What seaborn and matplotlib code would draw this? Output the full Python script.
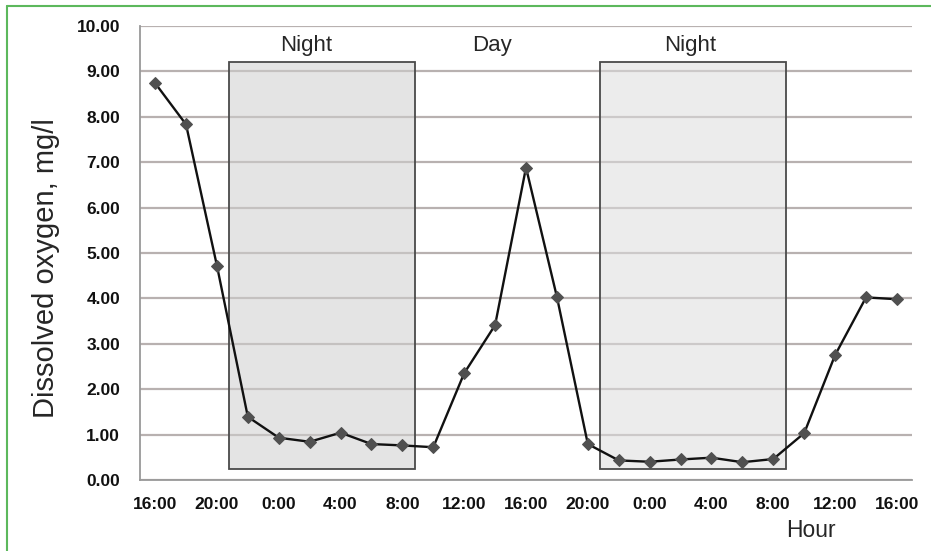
import numpy as np
import pandas as pd
import matplotlib
matplotlib.use('Agg')
import matplotlib.pyplot as plt
from matplotlib.patches import Rectangle
from matplotlib.lines import Line2D
import seaborn as sns

times = ['16:00', '18:00', '20:00', '22:00', '0:00', '2:00', '4:00', '6:00', '8:00',
         '10:00', '12:00', '14:00', '16:00', '18:00', '20:00', '22:00', '0:00', '2:00',
         '4:00', '6:00', '8:00', '10:00', '12:00', '14:00', '16:00']
oxygen = [8.74, 7.83, 4.72, 1.39, 0.93, 0.84, 1.04, 0.79, 0.76, 0.72, 2.35, 3.41, 6.88,
          4.03, 0.79, 0.43, 0.40, 0.45, 0.49, 0.39, 0.46, 1.03, 2.75, 4.02, 3.98]
# night periods, in sample-index units (start, end), and their vertical extent
night_spans = [(2.4, 8.4), (14.4, 20.4)]
night_low, night_high = 0.23, 9.2
period_labels = ['Night', 'Day', 'Night']

data = pd.DataFrame({'pos': np.arange(len(times)), 'do': oxygen})

sns.set_style('white')
plt.rcParams['font.family'] = ['Liberation Sans', 'DejaVu Sans']

fig = plt.figure(figsize=(9.31, 5.51), dpi=100)
ax = fig.add_axes([0.150, 0.129, 0.830, 0.824])

ax.set_axisbelow(True)
ax.yaxis.grid(True, color='#b8b1b0', linewidth=1.6)
ax.xaxis.grid(False)

fills = ['#cfcfcf', '#dedede']
for (x0, x1), fc in zip(night_spans, fills):
    ax.add_patch(Rectangle((x0, night_low), x1 - x0, night_high - night_low,
                           facecolor=fc, alpha=0.55, edgecolor='none', zorder=1))
    ax.add_patch(Rectangle((x0, night_low), x1 - x0, night_high - night_low,
                           facecolor='none', edgecolor='#4a4a4a', linewidth=1.3, zorder=2))

sns.lineplot(data=data, x='pos', y='do', ax=ax, color='#111111', linewidth=1.7,
             marker='D', markersize=6.5, markerfacecolor='#505050',
             markeredgecolor='#505050', zorder=3)

ax.set_xlim(-0.5, len(times) - 0.5)
ax.set_ylim(0, 10)

ax.set_yticks(np.arange(0, 11, 1))
ax.set_yticklabels([f'{v:.2f}' for v in np.arange(0, 11, 1)], fontweight='bold', fontsize=12.5)
ax.set_xticks(data['pos'][::2])
ax.set_xticklabels(times[::2], fontweight='bold', fontsize=12.5)
ax.set_xticks(np.arange(-0.5, len(times)), minor=True)
ax.tick_params(axis='x', which='major', length=0, pad=12, colors='#111111')
ax.tick_params(axis='x', which='minor', length=5, direction='inout', color='#999999', width=1.2)
ax.tick_params(axis='y', which='major', length=6, width=1.2, pad=8, colors='#111111')
ax.tick_params(axis='y', which='major', color='#999999')

for s in ['top', 'right']:
    ax.spines[s].set_visible(False)
for s in ['left', 'bottom']:
    ax.spines[s].set_color('#999999')
    ax.spines[s].set_linewidth(1.3)

ax.set_xlabel('')
ax.set_ylabel('Dissolved oxygen, mg/l', fontsize=21)
ax.yaxis.set_label_coords(-0.103, 0.466)

label_x = [4.9, 10.9, 17.3]
for lab, lx in zip(period_labels, label_x):
    ax.text(lx, 9.56, lab, ha='center', va='center', fontsize=16)

fig.text(0.871, 0.038, 'Hour', ha='center', va='center', fontsize=16.5)

# green frame around the figure
fig.add_artist(Line2D([0.0075, 1.0], [0.990, 0.990], transform=fig.transFigure,
                      color='#5cb85c', linewidth=1.5))
fig.add_artist(Line2D([0.0078, 0.0078], [0.0, 0.990], transform=fig.transFigure,
                      color='#5cb85c', linewidth=1.5))

fig.savefig('out.png', dpi=100)
